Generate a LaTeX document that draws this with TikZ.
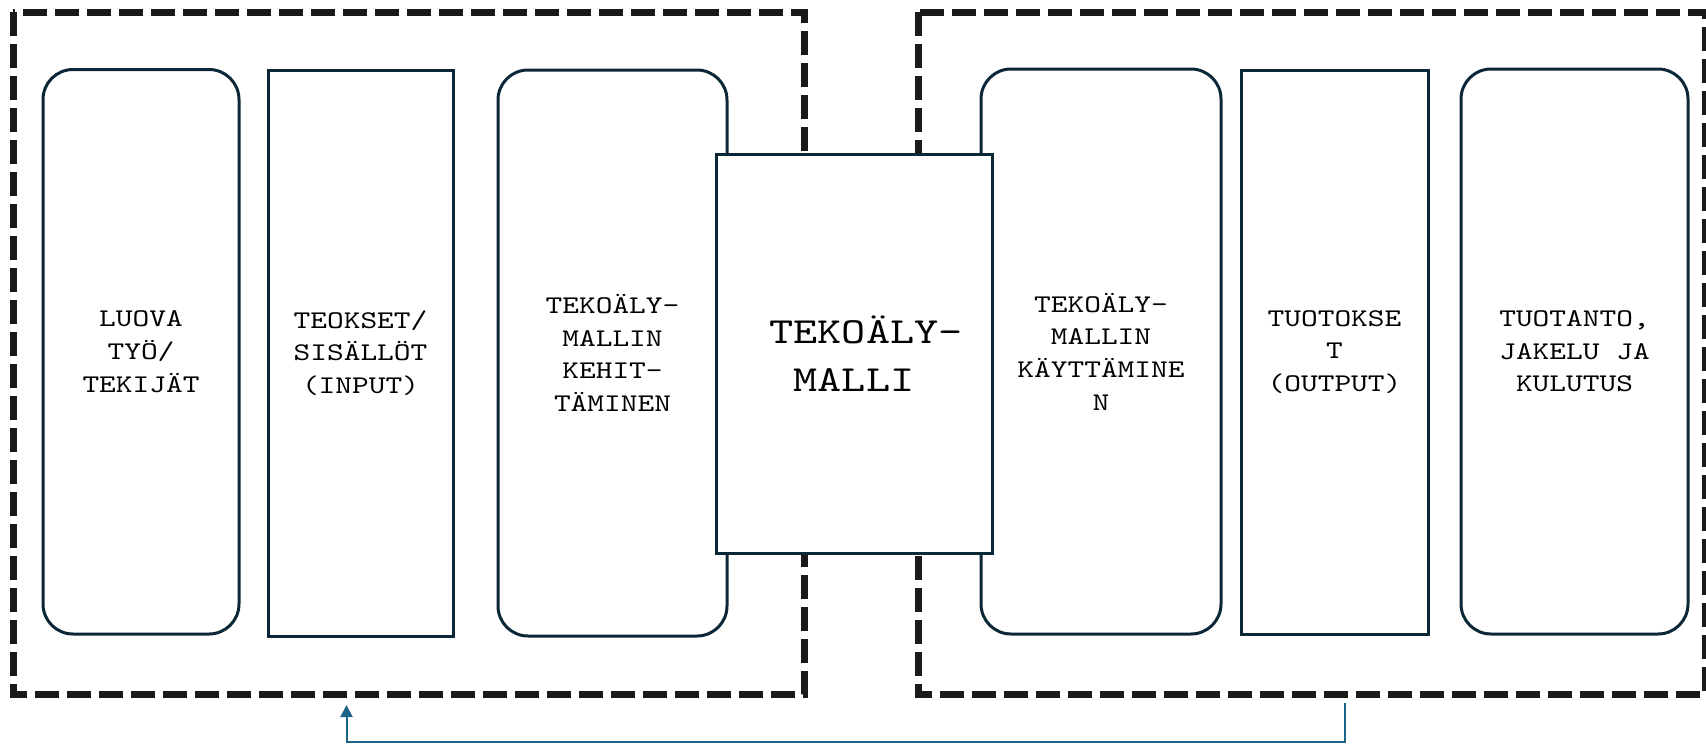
\documentclass[tikz,border=0pt]{standalone}
\usepackage{fontspec}
\usetikzlibrary{arrows.meta}
\newfontfamily\lmmonowide[FakeStretch=1.25]{lmmono10-regular.otf}
\definecolor{boxline}{RGB}{12,40,56}
\definecolor{dashline}{RGB}{26,26,26}
\definecolor{arrowblue}{RGB}{28,99,135}
\newcommand{\smallmono}{\lmmonowide\fontsize{19.1}{24.5}\selectfont}
\newcommand{\bigmono}{\lmmonowide\fontsize{27.6}{35.8}\selectfont}
\begin{document}
\begin{tikzpicture}[x=0.75pt,y=-0.75pt,
  groupbox/.style={draw=dashline,line width=5.25pt,dash pattern=on 18pt off 6pt},
  roundbox/.style={draw=boxline,fill=white,line width=2.25pt,rounded corners=22.5pt,align=center,
     font=\smallmono,inner sep=0pt},
  sqbox/.style={draw=boxline,fill=white,line width=2.25pt,align=center,
     font=\smallmono,inner sep=0pt},
  bigbox/.style={draw=boxline,fill=white,line width=2.25pt,align=center,
     font=\bigmono,inner sep=0pt},
  feedback/.style={draw=arrowblue,line width=1.5pt,-{Triangle[width=9pt,length=9pt]}}
]
\useasboundingbox (0,0) rectangle (1706,743);
% group frames
\draw[groupbox] (13,12) rectangle (804,694);
\draw[groupbox] (918,12) rectangle (1705,694);
% boxes
\node[roundbox,minimum width=196*0.75pt,minimum height=564.5*0.75pt] (b1) at (141,351.75) {LUOVA\\TYÖ/\\TEKIJÄT};
\node[sqbox,minimum width=185*0.75pt,minimum height=566*0.75pt] (b2) at (360.5,353) {TEOKSET/\\SISÄLLÖT\\(INPUT)};
\node[roundbox,minimum width=229*0.75pt,minimum height=566*0.75pt] (b3) at (612.5,353) {TEKOÄLY-\\MALLIN\\KEHIT-\\TÄMINEN};
\node[roundbox,minimum width=240*0.75pt,minimum height=565*0.75pt] (b4) at (1101,351.5) {TEKOÄLY-\\MALLIN\\KÄYTTÄMINE\\N};
\node[sqbox,minimum width=187*0.75pt,minimum height=564*0.75pt] (b5) at (1334.5,352) {TUOTOKSE\\T\\(OUTPUT)};
\node[roundbox,minimum width=227*0.75pt,minimum height=565*0.75pt] (b6) at (1574.5,351.5) {TUOTANTO,\\JAKELU JA\\KULUTUS};
\node[bigbox,minimum width=276*0.75pt,minimum height=399*0.75pt] (m) at (854,353.5) {\hphantom{T}TEKOÄLY-\\MALLI};
% feedback arrow
\coordinate (fs) at (1345,703);
\coordinate (fe) at (346.5,705);
\draw[feedback] (fs) -- (fs |- 0,741.5) -- (fe |- 0,741.5) -- (fe);
\end{tikzpicture}
\end{document}
